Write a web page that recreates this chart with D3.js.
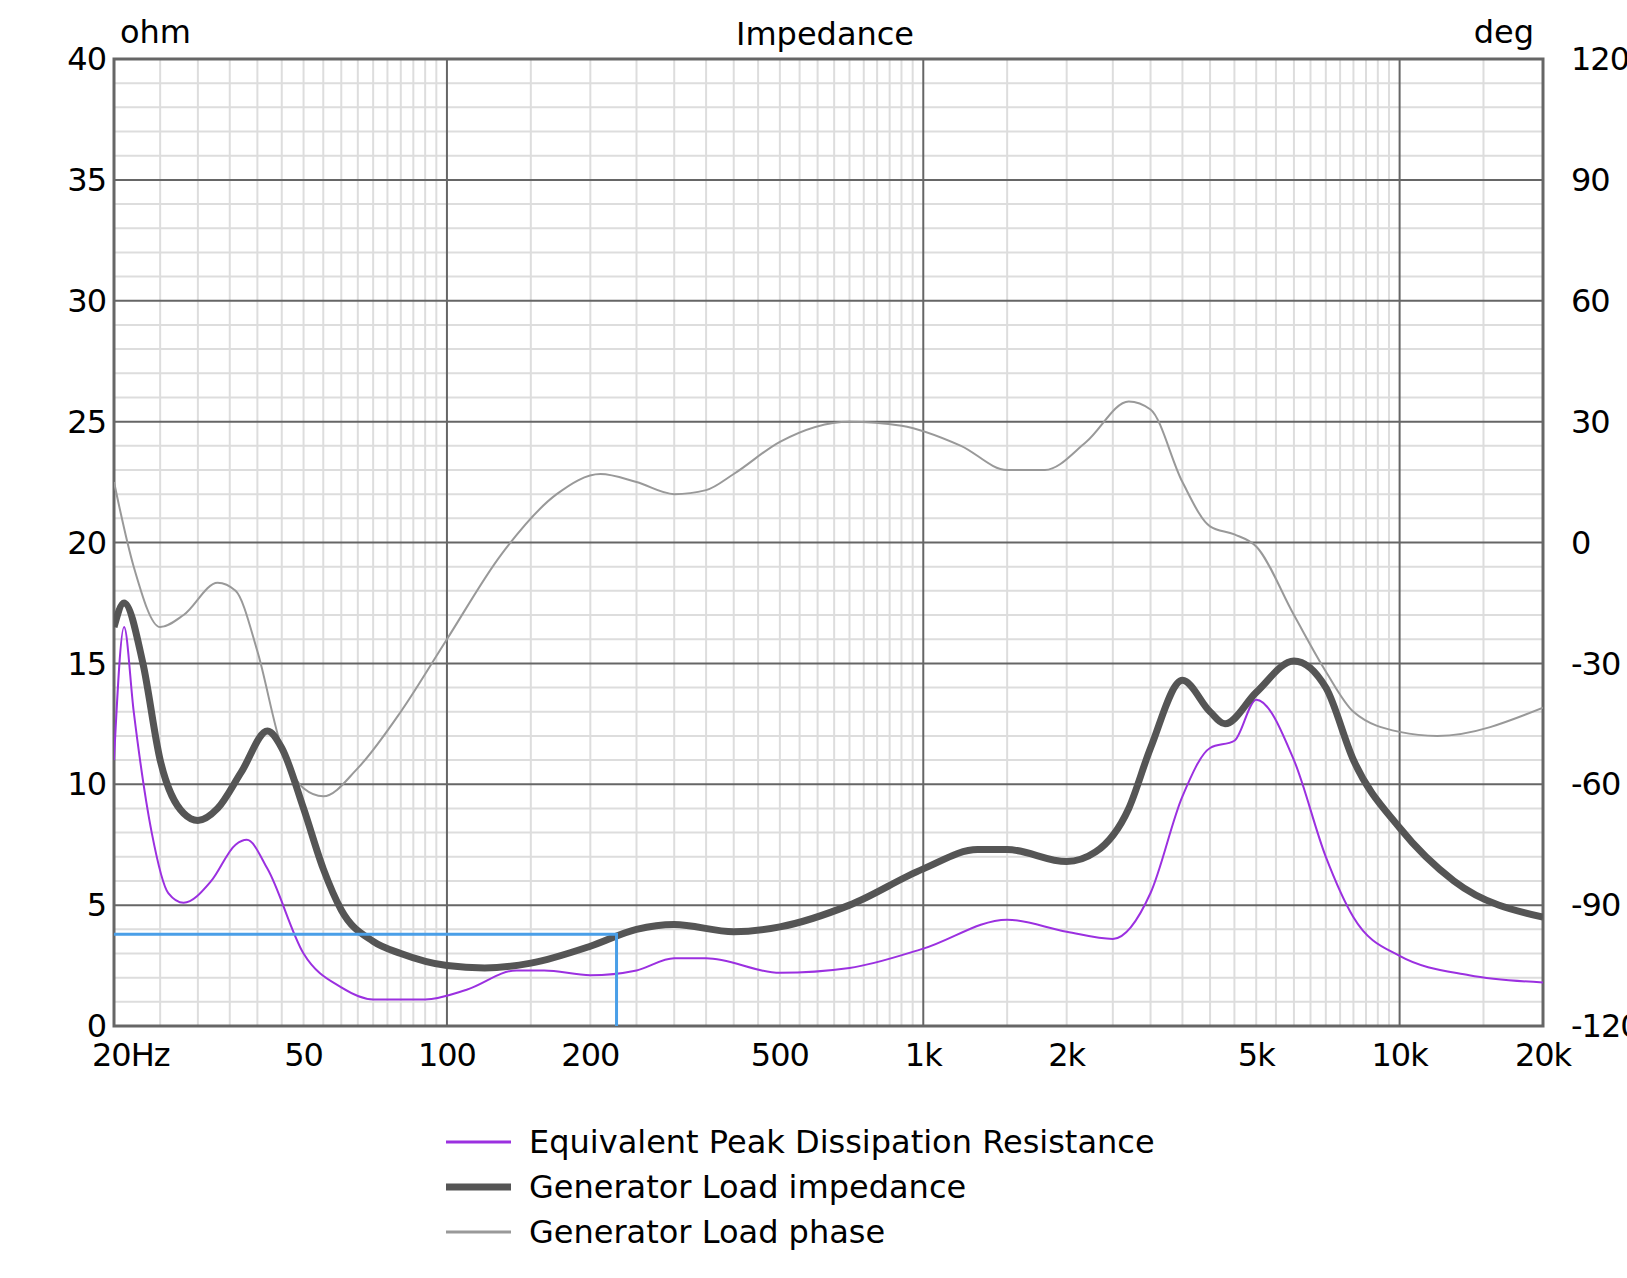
<!DOCTYPE html><html><head><meta charset="utf-8">
<script src="https://cdn.jsdelivr.net/npm/d3@7"></script>
<style>body{margin:0;background:#fff}text{font-family:"DejaVu Sans",sans-serif;fill:#000}</style></head><body>
<svg id="c" width="1627" height="1278"></svg>
<script>
const impF=[20,21,23,25,28,30,33,37,42,45,50,55,60,70,80,100,120,150,200,250,300,400,500,700,1000,1300,1500,2000,2300,2700,3000,3500,4000,4300,5000,6000,7000,8000,10000,13000,20000];
const impV=[16.5,17.5,15,11,8.8,8.5,9,10.5,12.2,11.5,9,6.5,4.8,3.5,3,2.5,2.4,2.6,3.3,4,4.2,3.9,4.1,5,6.5,7.3,7.3,6.8,7.2,9,11.5,14.3,13,12.5,13.8,15.1,14,11,8.2,6,4.5];
const pdrF=[20,21,22,24,26,28,32,36,38,42,50,60,70,90,110,140,160,200,250,300,350,500,700,1000,1500,2000,2500,3000,3500,4000,4500,5000,6000,7000,8000,10000,14000,20000];
const pdrV=[11,16.5,13,8,5.5,5.1,6,7.5,7.7,6.5,3,1.6,1.1,1.1,1.5,2.3,2.3,2.1,2.3,2.8,2.8,2.2,2.4,3.2,4.4,3.9,3.6,5.5,9.5,11.5,11.8,13.5,11,7,4.5,2.9,2.1,1.8];
const phF=[20,22,25,28,33,36,40,45,50,55,65,80,100,130,170,210,250,300,350,400,500,700,900,1200,1500,1800,2200,2700,3000,3500,4000,4500,5000,6000,7000,8000,10000,12000,20000];
const phV=[15,-6,-21,-18,-10,-12,-27,-51,-61,-63,-56,-42,-24,-3,12,17,15,12,13,17,25,30,29,24,18,18,25,35,33,15,4,2,-1,-18,-32,-42,-47,-48,-41];
const leftTicks=[0,5,10,15,20,25,30,35,40];
const rightTicks=[-120,-90,-60,-30,0,30,60,90,120];
const xTicks=[20,50,100,200,500,1000,2000,5000,10000,20000];
const xLabels=["20Hz","50","100","200","500","1k","2k","5k","10k","20k"];
const cursorF=227, cursorV=3.8;
const legend=[["Equivalent Peak Dissipation Resistance","#9b30e0",2],["Generator Load impedance","#555",7],["Generator Load phase","#999",2]];

const L=114,R=1543,T=59,B=1026;
const svg=d3.select("#c");
const x=d3.scaleLog().domain([20,20000]).range([L,R]);
const y=d3.scaleLinear().domain([0,40]).range([B,T]);
const yr=d3.scaleLinear().domain([-120,120]).range([B,T]);
const g=svg.append("g");
for(let v=0;v<=40;v++) if(v%5) g.append("line").attr("x1",L).attr("x2",R).attr("y1",y(v)).attr("y2",y(v)).attr("stroke","#ddd").attr("stroke-width",2);
const minorF=[];[10,100,1000,10000].forEach(d=>{for(let k=1;k<10;k+=0.5){const f=d*k;if(f>20&&f<20000&&![100,1000,10000].includes(f))minorF.push(f);}});
minorF.forEach(f=>g.append("line").attr("x1",x(f)).attr("x2",x(f)).attr("y1",T).attr("y2",B).attr("stroke","#ddd").attr("stroke-width",2));
for(let v=5;v<40;v+=5) g.append("line").attr("x1",L).attr("x2",R).attr("y1",y(v)).attr("y2",y(v)).attr("stroke","#666").attr("stroke-width",2);
[100,1000,10000].forEach(f=>g.append("line").attr("x1",x(f)).attr("x2",x(f)).attr("y1",T).attr("y2",B).attr("stroke","#666").attr("stroke-width",2));
g.append("rect").attr("x",L).attr("y",T).attr("width",R-L).attr("height",B-T).attr("fill","none").attr("stroke","#666").attr("stroke-width",3);
const fs=32;
leftTicks.forEach(v=>svg.append("text").attr("x",L-8).attr("y",y(v)).attr("dy","0.35em").attr("text-anchor","end").attr("font-size",fs).attr("letter-spacing",-1).text(v));
rightTicks.forEach(v=>svg.append("text").attr("x",R+28).attr("y",yr(v)).attr("dy","0.35em").attr("font-size",fs).attr("letter-spacing",-1).text(v));
xTicks.forEach((f,i)=>svg.append("text").attr("x",i===0?x(f)-22:x(f)).attr("y",B+40).attr("text-anchor",i===0?"start":"middle").attr("font-size",fs).attr("letter-spacing",-1).text(xLabels[i]));
svg.append("text").attr("x",825).attr("y",45).attr("text-anchor","middle").attr("font-size",fs).text("Impedance");
svg.append("text").attr("x",120).attr("y",43).attr("font-size",fs).text("ohm");
svg.append("text").attr("x",1534).attr("y",43).attr("text-anchor","end").attr("font-size",fs).text("deg");
const ln=(fs_,vs,sc)=>d3.line().x((d,i)=>x(fs_[i])).y((d,i)=>sc(vs[i])).curve(d3.curveMonotoneX)(vs);
svg.append("defs").append("clipPath").attr("id","cp").append("rect").attr("x",L).attr("y",T).attr("width",R-L).attr("height",B-T);
const pg=svg.append("g").attr("clip-path","url(#cp)");
pg.append("path").attr("d",ln(phF,phV,yr)).attr("fill","none").attr("stroke","#999").attr("stroke-width",2);
pg.append("path").attr("d",ln(pdrF,pdrV,y)).attr("fill","none").attr("stroke","#9b30e0").attr("stroke-width",2);
pg.append("path").attr("d",ln(impF,impV,y)).attr("fill","none").attr("stroke","#555").attr("stroke-width",7);
pg.append("path").attr("d",`M${x(20)},${y(cursorV)}H${x(cursorF)}V${y(0)}`).attr("fill","none").attr("stroke","#4a9fe8").attr("stroke-width",3);
legend.forEach((l,i)=>{const yy=1142+i*45;
svg.append("line").attr("x1",446).attr("x2",511).attr("y1",yy).attr("y2",yy).attr("stroke",l[1]).attr("stroke-width",l[2]===7?7:3);
svg.append("text").attr("x",529).attr("y",yy).attr("dy","0.35em").attr("font-size",fs).text(l[0]);});
</script></body></html>
